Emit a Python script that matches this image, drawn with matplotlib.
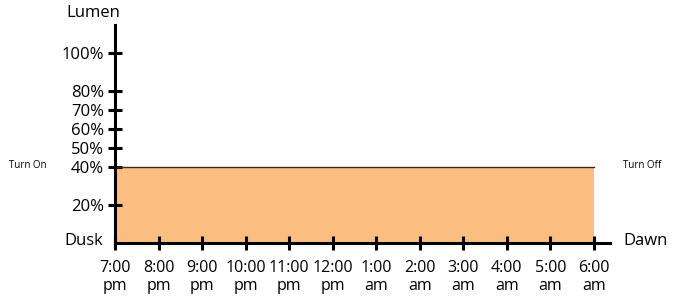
import matplotlib
matplotlib.use("Agg")
import matplotlib.pyplot as plt

hours = ["7:00\npm", "8:00\npm", "9:00\npm", "10:00\npm", "11:00\npm", "12:00\npm",
         "1:00\nam", "2:00\nam", "3:00\nam", "4:00\nam", "5:00\nam", "6:00\nam"]
lumen_levels = [20, 40, 50, 60, 70, 80, 100]
lumen_labels = ["20%", "40%", "50%", "60%", "70%", "80%", "100%"]
dim_level = [40] * len(hours)

plt.rcParams['font.family'] = ['Open Sans', 'DejaVu Sans']

fig = plt.figure(figsize=(6.77, 3.0), dpi=100)
ax = fig.add_axes([115/677, 57/300, (610-115)/677, (243-25)/300])

x = list(range(len(hours)))
ax.fill_between(x, 0, dim_level, color="#fbbd80", linewidth=0)
ax.plot(x, dim_level, color="#3a2a1a", linewidth=1.0)

ax.set_xlim(0, 11.37)
ax.set_ylim(0, 114.5)
for s in ["top", "right"]:
    ax.spines[s].set_visible(False)
for s in ["left", "bottom"]:
    ax.spines[s].set_linewidth(2.2)
    ax.spines[s].set_color("black")

ax.set_xticks(x)
ax.set_xticklabels(hours, fontsize=11.5, linespacing=1.2)
ax.set_yticks(lumen_levels)
ax.set_yticklabels(lumen_labels, fontsize=12)
ax.tick_params(axis="both", direction="inout", length=10, width=2.2, color="black")
ax.tick_params(axis="x", pad=7)
ax.tick_params(axis="y", pad=3)

fig.text(93/677, 1 - 13/300, "Lumen", ha="center", va="center", fontsize=12)
fig.text(84/677, 1 - 241/300, "Dusk", ha="center", va="center", fontsize=12)
fig.text(646/677, 1 - 241/300, "Dawn", ha="center", va="center", fontsize=12)
fig.text(28/677, 1 - 166/300, "Turn On", ha="center", va="center", fontsize=7)
fig.text(642/677, 1 - 165/300, "Turn Off", ha="center", va="center", fontsize=7)

fig.savefig("out.png", dpi=100, facecolor="white")
